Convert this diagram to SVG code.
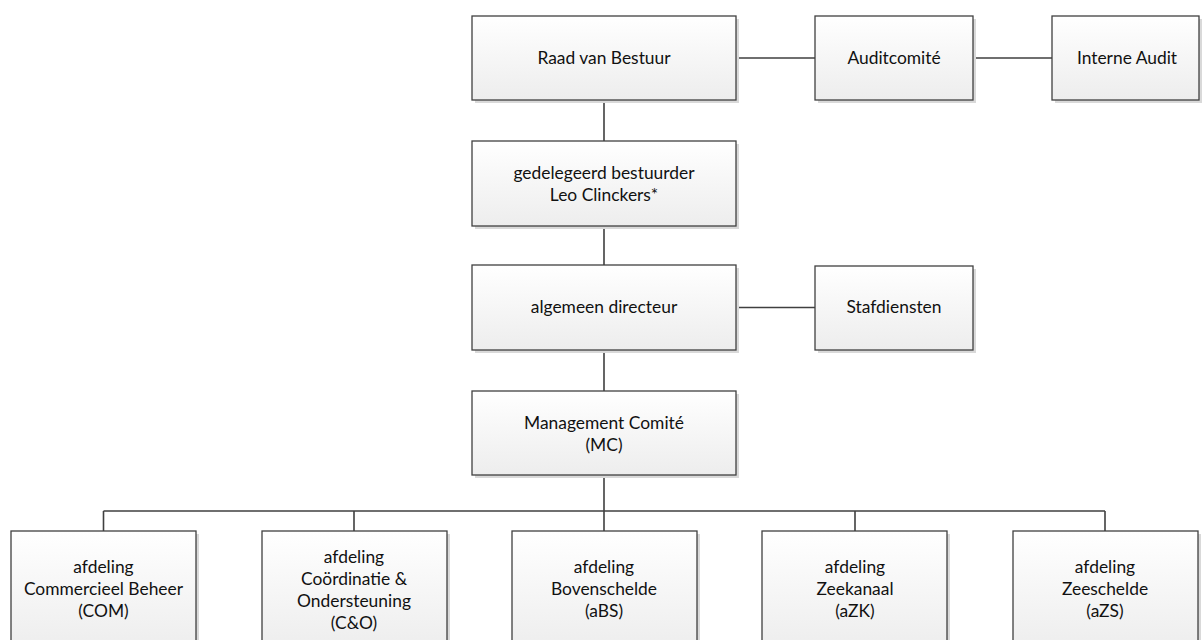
<svg xmlns="http://www.w3.org/2000/svg" width="1202" height="640" viewBox="0 0 1202 640">
<defs>
<linearGradient id="g" x1="0" y1="0" x2="0" y2="1">
<stop offset="0" stop-color="#ffffff"/>
<stop offset="1" stop-color="#ededed"/>
</linearGradient>
<style>
.shadow{fill:#d9d9d9}
.box{fill:url(#g);stroke:#404040;stroke-width:1.3}
.t{font-family:Lato,"Liberation Sans",sans-serif;font-size:17.4px;fill:#111111;text-anchor:middle}
.c{fill:none;stroke:#404040;stroke-width:1.6}
</style>
</defs>
<rect width="1202" height="640" fill="#ffffff"/>
<g id="connectors">
<path class="c" d="M736 58H815M973 58H1052M604 100V141M604 226V265M736 307.5H815M604 350V391M604 475V511M103.5 511H1105M103.5 511V531M354 511V531M604 511V531M855 511V531M1105 511V531"/>
</g>
<g id="raad"><rect class="shadow" x="475" y="19" width="264" height="84"/><rect class="box" x="472" y="16" width="264" height="84"/><text class="t" x="604" y="64">Raad van Bestuur</text></g>
<g id="auditcomite"><rect class="shadow" x="818" y="19" width="158" height="84"/><rect class="box" x="815" y="16" width="158" height="84"/><text class="t" x="894" y="64">Auditcomité</text></g>
<g id="interne-audit"><rect class="shadow" x="1055" y="19" width="158" height="84"/><rect class="box" x="1052" y="16" width="147" height="84"/><text class="t" x="1127" y="64">Interne Audit</text></g>
<g id="gedelegeerd"><rect class="shadow" x="475" y="144" width="264" height="85"/><rect class="box" x="472" y="141" width="264" height="85"/><text class="t" x="604" y="179">gedelegeerd bestuurder</text><text class="t" x="604" y="201">Leo Clinckers*</text></g>
<g id="algemeen"><rect class="shadow" x="475" y="268" width="264" height="85"/><rect class="box" x="472" y="265" width="264" height="85"/><text class="t" x="604" y="313">algemeen directeur</text></g>
<g id="stafdiensten"><rect class="shadow" x="818" y="269" width="158" height="84"/><rect class="box" x="815" y="266" width="158" height="84"/><text class="t" x="894" y="313">Stafdiensten</text></g>
<g id="mc"><rect class="shadow" x="475" y="394" width="264" height="84"/><rect class="box" x="472" y="391" width="264" height="84"/><text class="t" x="604" y="429">Management Comité</text><text class="t" x="604" y="451">(MC)</text></g>
<g id="com"><rect class="shadow" x="14" y="534" width="185" height="120"/><rect class="box" x="11" y="531" width="185" height="120"/><text class="t" x="103.5" y="573">afdeling</text><text class="t" x="103.5" y="595">Commercieel Beheer</text><text class="t" x="103.5" y="617">(COM)</text></g>
<g id="co"><rect class="shadow" x="265" y="534" width="185" height="120"/><rect class="box" x="262" y="531" width="185" height="120"/><text class="t" x="354" y="563">afdeling</text><text class="t" x="354" y="585">Coördinatie &amp;</text><text class="t" x="354" y="607">Ondersteuning</text><text class="t" x="354" y="629">(C&amp;O)</text></g>
<g id="abs"><rect class="shadow" x="515" y="534" width="185" height="120"/><rect class="box" x="512" y="531" width="185" height="120"/><text class="t" x="604" y="573">afdeling</text><text class="t" x="604" y="595">Bovenschelde</text><text class="t" x="604" y="617">(aBS)</text></g>
<g id="azk"><rect class="shadow" x="765" y="534" width="185" height="120"/><rect class="box" x="762" y="531" width="185" height="120"/><text class="t" x="855" y="573">afdeling</text><text class="t" x="855" y="595">Zeekanaal</text><text class="t" x="855" y="617">(aZK)</text></g>
<g id="azs"><rect class="shadow" x="1016" y="534" width="185" height="120"/><rect class="box" x="1013" y="531" width="185" height="120"/><text class="t" x="1105" y="573">afdeling</text><text class="t" x="1105" y="595">Zeeschelde</text><text class="t" x="1105" y="617">(aZS)</text></g>
</svg>
